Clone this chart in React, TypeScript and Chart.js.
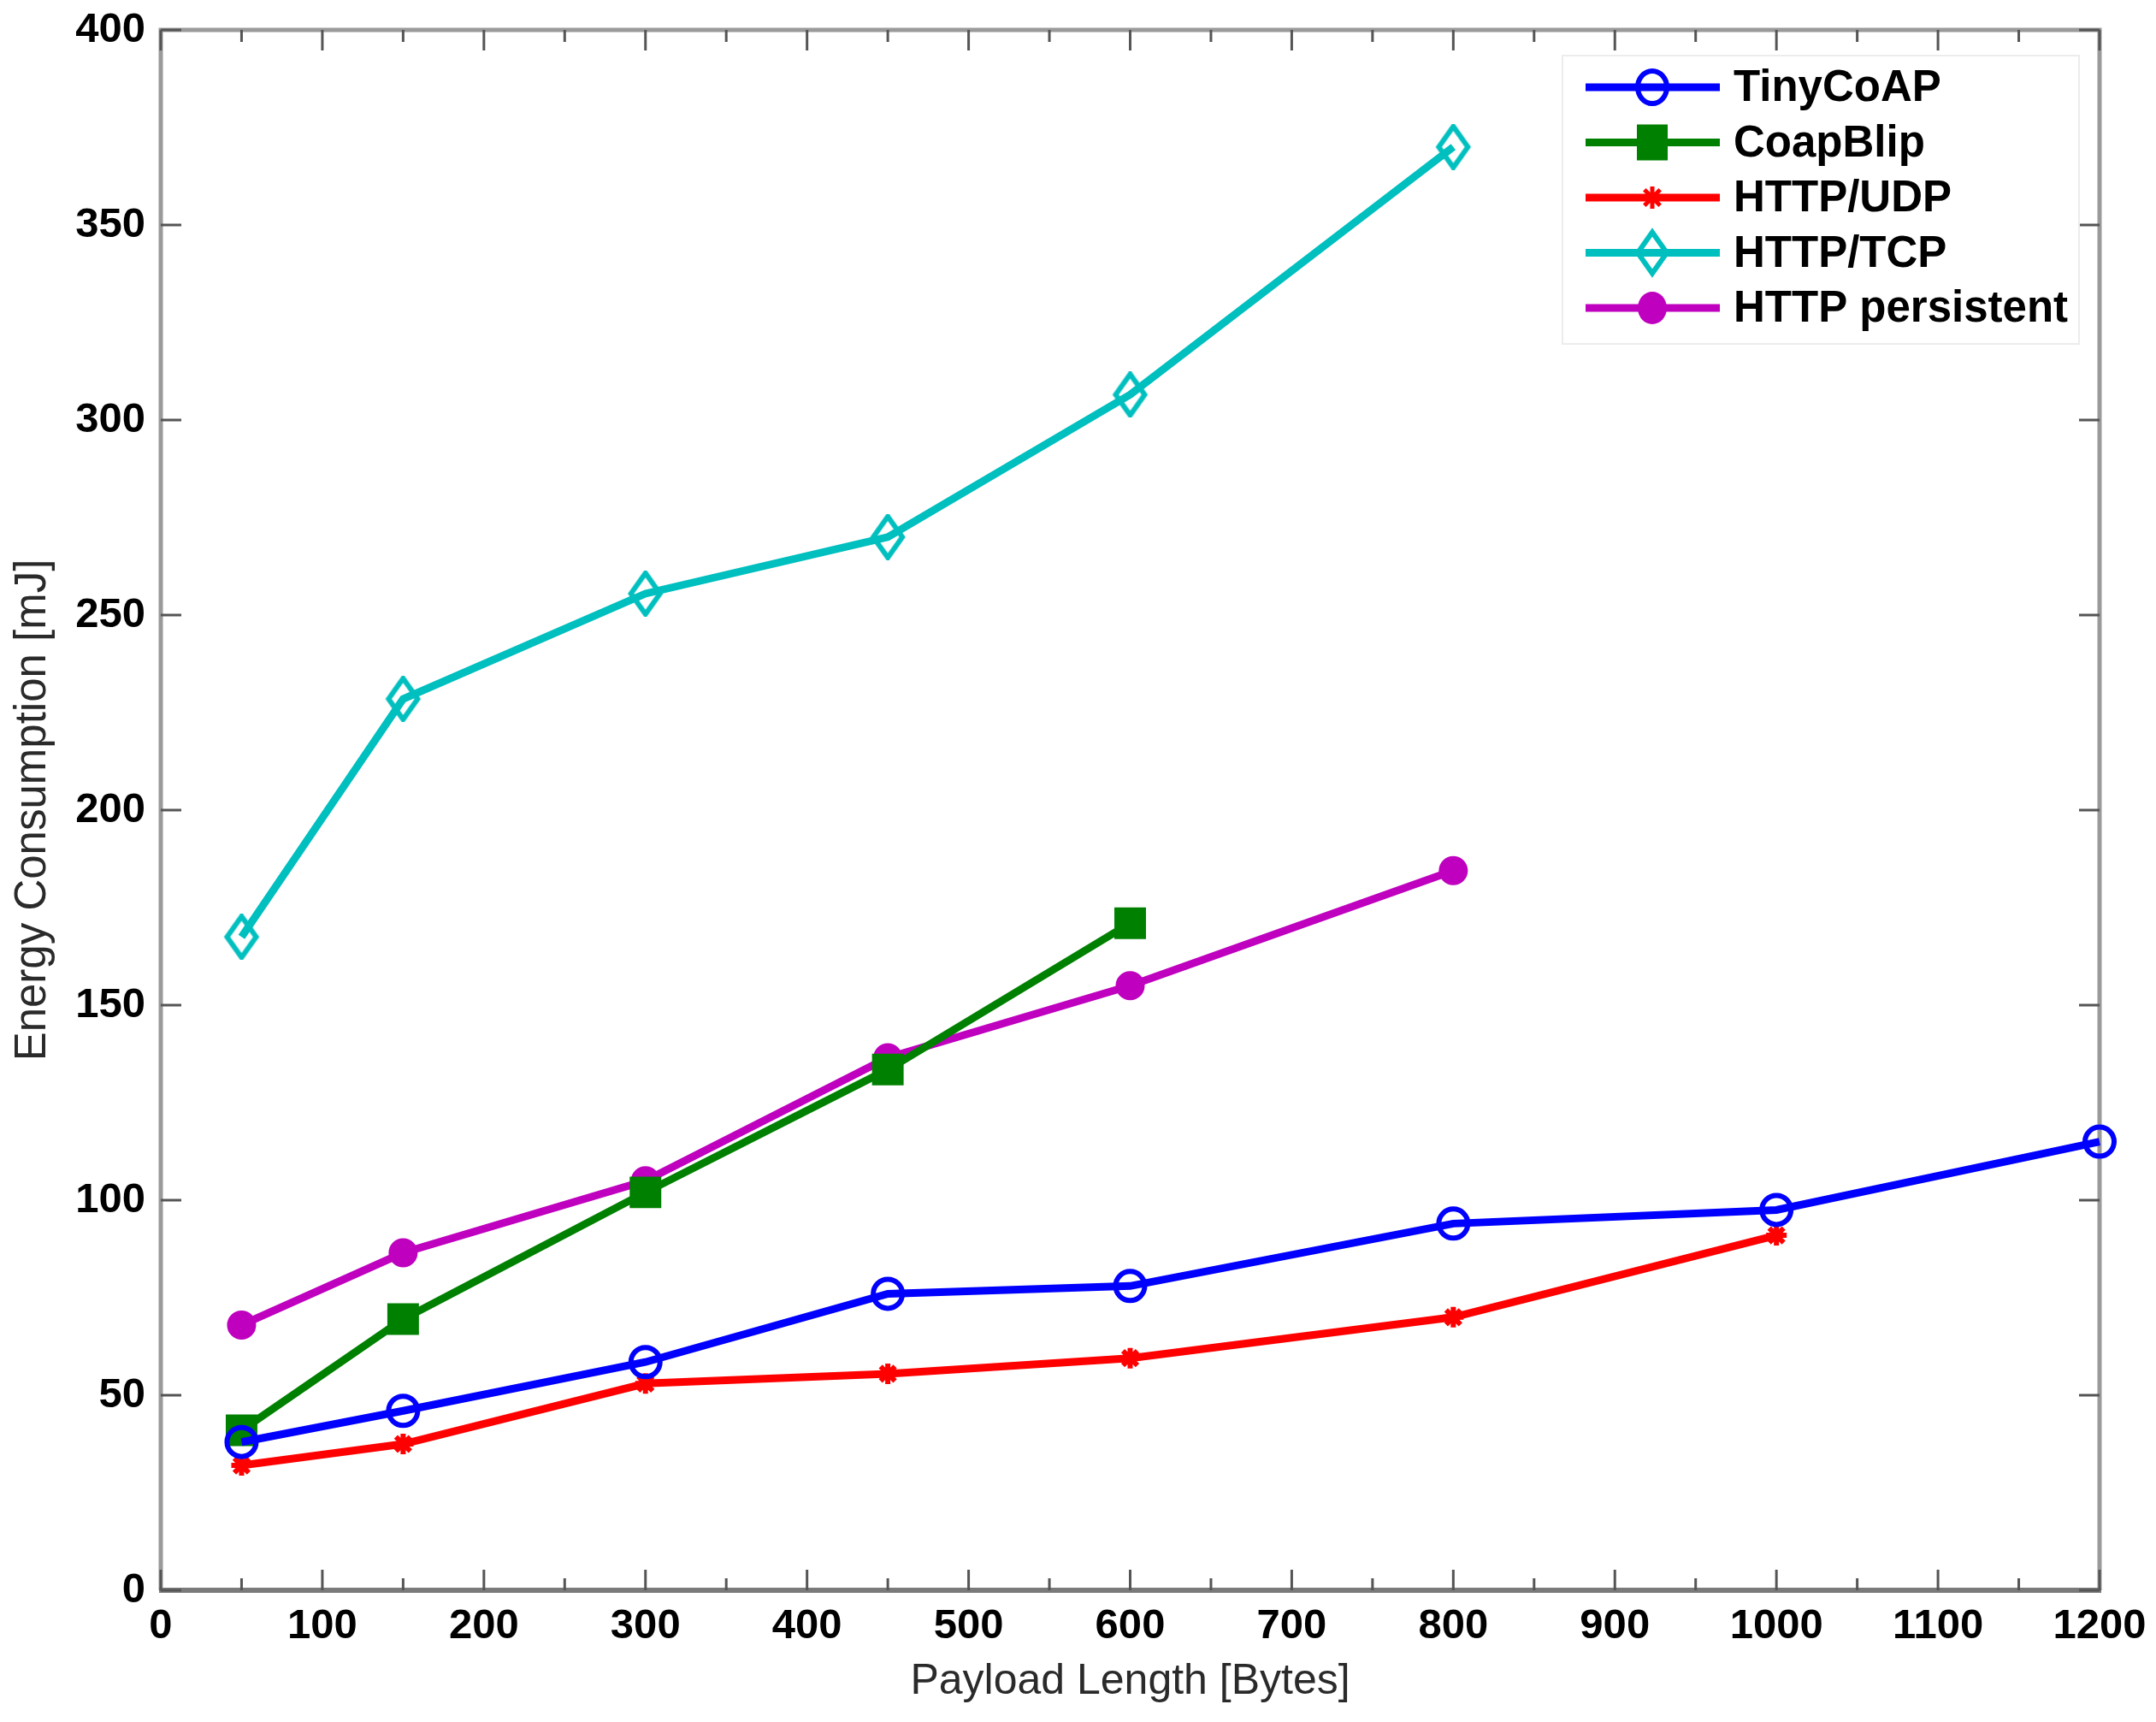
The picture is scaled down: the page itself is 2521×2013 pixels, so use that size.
import React, { useEffect, useRef } from "react";
import { Chart, registerables } from "chart.js";

Chart.register(...registerables);

// ---- Data ----
const seriesLabels = ["TinyCoAP", "CoapBlip", "HTTP/UDP", "HTTP/TCP", "HTTP persistent"];
const seriesColors = ["#0000ff", "#008000", "#ff0000", "#00bfbf", "#bf00bf"];

const payloadTiny = [50, 150, 300, 450, 600, 800, 1000, 1200];
const energyTiny = [38, 46, 58.5, 76, 78, 94, 97.5, 115];

const payloadBlip = [50, 150, 300, 450, 600];
const energyBlip = [41, 69.5, 102, 133.5, 171];

const payloadUdp = [50, 150, 300, 450, 600, 800, 1000];
const energyUdp = [32, 37.5, 53, 55.5, 59.5, 70, 91];

const payloadTcp = [50, 150, 300, 450, 600, 800];
const energyTcp = [167.5, 228.5, 255.5, 270, 306.5, 370];

const payloadPersistent = [50, 150, 300, 450, 600, 800];
const energyPersistent = [68, 86.5, 105, 136.5, 155, 184.5];

const xTickValues = [0, 100, 200, 300, 400, 500, 600, 700, 800, 900, 1000, 1100, 1200];
const xMinorTickValues = [50, 150, 250, 350, 450, 550, 650, 750, 850, 950, 1050, 1150];
const yTickValues = [0, 50, 100, 150, 200, 250, 300, 350, 400];

const xTitle = "Payload Length [Bytes]";
const yTitle = "Energy Consumption [mJ]";

const FONT = '"Liberation Sans", Arial, Helvetica, sans-serif';

function pts(xs: number[], ys: number[]) {
  return xs.map((x, i) => ({ x, y: ys[i] }));
}

type MarkerKind = "openCircle" | "square" | "star" | "diamond" | "dot";
const markerKinds: MarkerKind[] = ["openCircle", "square", "star", "diamond", "dot"];

function drawMarker(ctx: CanvasRenderingContext2D, kind: MarkerKind, x: number, y: number, color: string) {
  ctx.save();
  ctx.strokeStyle = color;
  ctx.fillStyle = color;
  ctx.beginPath();
  if (kind === "openCircle") {
    ctx.lineWidth = 6;
    ctx.ellipse(x, y, 17, 19, 0, 0, Math.PI * 2);
    ctx.stroke();
  } else if (kind === "square") {
    ctx.rect(x - 18, y - 21, 36, 42);
    ctx.fill();
  } else if (kind === "star") {
    ctx.lineWidth = 5;
    const r = 13;
    ctx.moveTo(x - r, y);
    ctx.lineTo(x + r, y);
    ctx.moveTo(x, y - r);
    ctx.lineTo(x, y + r);
    const d = r * Math.SQRT1_2;
    ctx.moveTo(x - d, y - d);
    ctx.lineTo(x + d, y + d);
    ctx.moveTo(x - d, y + d);
    ctx.lineTo(x + d, y - d);
    ctx.stroke();
  } else if (kind === "diamond") {
    ctx.lineWidth = 6;
    ctx.moveTo(x, y - 24);
    ctx.lineTo(x + 17, y);
    ctx.lineTo(x, y + 24);
    ctx.lineTo(x - 17, y);
    ctx.closePath();
    ctx.stroke();
  } else {
    ctx.ellipse(x, y, 17, 19, 0, 0, Math.PI * 2);
    ctx.fill();
  }
  ctx.restore();
}

function makeDiamondImage(color: string): HTMLCanvasElement {
  const c = document.createElement("canvas");
  c.width = 44;
  c.height = 54;
  const g = c.getContext("2d");
  if (g) drawMarker(g, "diamond", 22, 27, color);
  return c;
}

const framePlugin = {
  id: "matlabFrame",
  beforeDatasetsDraw(chart: any) {
    const { ctx, chartArea, scales } = chart;
    const { left, right, top, bottom } = chartArea;
    const xs = scales.x;
    const ys = scales.y;
    ctx.save();
    ctx.lineCap = "butt";
    ctx.strokeStyle = "#9a9a9a";
    ctx.lineWidth = 5;
    ctx.beginPath();
    ctx.moveTo(left, bottom);
    ctx.lineTo(left, top);
    ctx.lineTo(right, top);
    ctx.lineTo(right, bottom);
    ctx.stroke();
    ctx.strokeStyle = "#7a7a7a";
    ctx.lineWidth = 6;
    ctx.beginPath();
    ctx.moveTo(left - 2, bottom);
    ctx.lineTo(right + 2, bottom);
    ctx.stroke();

    ctx.strokeStyle = "#555";
    ctx.lineWidth = 3;
    ctx.beginPath();
    xTickValues.forEach((v) => {
      const px = xs.getPixelForValue(v);
      ctx.moveTo(px, bottom);
      ctx.lineTo(px, bottom - 24);
      ctx.moveTo(px, top);
      ctx.lineTo(px, top + 24);
    });
    xMinorTickValues.forEach((v) => {
      const px = xs.getPixelForValue(v);
      ctx.moveTo(px, bottom);
      ctx.lineTo(px, bottom - 14);
      ctx.moveTo(px, top);
      ctx.lineTo(px, top + 14);
    });
    yTickValues.forEach((v) => {
      const py = ys.getPixelForValue(v);
      ctx.moveTo(left, py);
      ctx.lineTo(left + 24, py);
      ctx.moveTo(right, py);
      ctx.lineTo(right - 24, py);
    });
    ctx.stroke();
    ctx.restore();
  },
  afterDraw(chart: any) {
    const { ctx, chartArea } = chart;
    ctx.save();
    ctx.fillStyle = "#2a2a2a";
    ctx.font = `normal 50px ${FONT}`;
    ctx.textAlign = "center";
    ctx.textBaseline = "middle";
    ctx.fillText(xTitle, (chartArea.left + chartArea.right) / 2, 1966);
    ctx.save();
    ctx.translate(39, (chartArea.top + chartArea.bottom) / 2);
    ctx.rotate(-Math.PI / 2);
    ctx.font = `normal 51px ${FONT}`;
    ctx.fillText(yTitle, 0, 0);
    ctx.restore();

    const bx = 1827, by = 65, bw = 604, bh = 337;
    ctx.fillStyle = "#ffffff";
    ctx.fillRect(bx, by, bw, bh);
    ctx.strokeStyle = "#ececec";
    ctx.lineWidth = 2;
    ctx.strokeRect(bx, by, bw, bh);
    seriesLabels.forEach((label, i) => {
      const y = 102 + i * 64.5;
      const color = seriesColors[i];
      ctx.strokeStyle = color;
      ctx.lineWidth = 9;
      ctx.beginPath();
      ctx.moveTo(1854, y);
      ctx.lineTo(2011, y);
      ctx.stroke();
      drawMarker(ctx, markerKinds[i], 1932, y, color);
      ctx.fillStyle = "#000";
      ctx.font = `bold 51px ${FONT}`;
      ctx.textAlign = "left";
      ctx.textBaseline = "middle";
      ctx.fillText(label, 2027, y + 2);
    });
    ctx.restore();
  },
};

export default function App() {
  const canvasRef = useRef<HTMLCanvasElement | null>(null);

  useEffect(() => {
    if (!canvasRef.current) return;
    const lineW = 9;
    const diamondImg = makeDiamondImage(seriesColors[3]);
    const chart = new Chart(canvasRef.current, {
      type: "line",
      data: {
        datasets: [
          {
            label: seriesLabels[0],
            data: pts(payloadTiny, energyTiny),
            borderColor: seriesColors[0],
            backgroundColor: "rgba(0,0,0,0)",
            borderWidth: lineW,
            pointStyle: "circle",
            pointRadius: 17,
            pointBorderWidth: 6,
            pointBorderColor: seriesColors[0],
            pointBackgroundColor: "rgba(0,0,0,0)",
          },
          {
            label: seriesLabels[1],
            data: pts(payloadBlip, energyBlip),
            borderColor: seriesColors[1],
            backgroundColor: seriesColors[1],
            borderWidth: lineW,
            pointStyle: "rect",
            pointRadius: 24,
            pointBorderWidth: 3,
            pointBorderColor: seriesColors[1],
            pointBackgroundColor: seriesColors[1],
          },
          {
            label: seriesLabels[2],
            data: pts(payloadUdp, energyUdp),
            borderColor: seriesColors[2],
            backgroundColor: seriesColors[2],
            borderWidth: lineW,
            pointStyle: "star",
            pointRadius: 12,
            pointBorderWidth: 6,
            pointBorderColor: seriesColors[2],
            pointBackgroundColor: seriesColors[2],
          },
          {
            label: seriesLabels[3],
            data: pts(payloadTcp, energyTcp),
            borderColor: seriesColors[3],
            backgroundColor: "rgba(0,0,0,0)",
            borderWidth: lineW,
            pointStyle: diamondImg,
            pointRadius: 22,
            pointBorderWidth: 6,
            pointBorderColor: seriesColors[3],
            pointBackgroundColor: "rgba(0,0,0,0)",
          },
          {
            label: seriesLabels[4],
            data: pts(payloadPersistent, energyPersistent),
            borderColor: seriesColors[4],
            backgroundColor: seriesColors[4],
            borderWidth: lineW,
            pointStyle: "circle",
            pointRadius: 16,
            pointBorderWidth: 2,
            pointBorderColor: seriesColors[4],
            pointBackgroundColor: seriesColors[4],
          },
        ],
      },
      options: {
        responsive: false,
        maintainAspectRatio: false,
        devicePixelRatio: 1,
        animation: false,
        events: [],
        clip: false as any,
        layout: { padding: { left: 0, top: 35, right: 66, bottom: 0 } },
        elements: { line: { tension: 0 } },
        plugins: {
          legend: { display: false },
          tooltip: { enabled: false },
          title: { display: false },
        },
        scales: {
          x: {
            type: "linear",
            min: 0,
            max: 1200,
            ticks: {
              stepSize: 100,
              autoSkip: false,
              maxRotation: 0,
              color: "#000",
              padding: 13,
              font: { family: FONT, size: 49, weight: "bold" },
              callback: (v: any) => String(v),
            },
            grid: { display: false, drawTicks: false },
            border: { display: false },
            afterFit: (s: any) => {
              s.height = 154;
              s.paddingLeft = 0;
              s.paddingRight = 0;
            },
          },
          y: {
            type: "linear",
            min: 0,
            max: 400,
            ticks: {
              stepSize: 50,
              color: "#000",
              padding: 18,
              font: { family: FONT, size: 49, weight: "bold" },
              callback: (v: any) => String(v),
            },
            grid: { display: false, drawTicks: false },
            border: { display: false },
            afterFit: (s: any) => {
              s.width = 188;
              s.paddingTop = 0;
              s.paddingBottom = 0;
            },
          },
        },
      },
      plugins: [framePlugin],
    } as any);
    return () => chart.destroy();
  }, []);

  return (
    <div style={{ position: "absolute", left: 0, top: 0, width: 2521, height: 2013, background: "#fff" }}>
      <canvas ref={canvasRef} width={2521} height={2013} style={{ width: 2521, height: 2013, display: "block" }} />
    </div>
  );
}
